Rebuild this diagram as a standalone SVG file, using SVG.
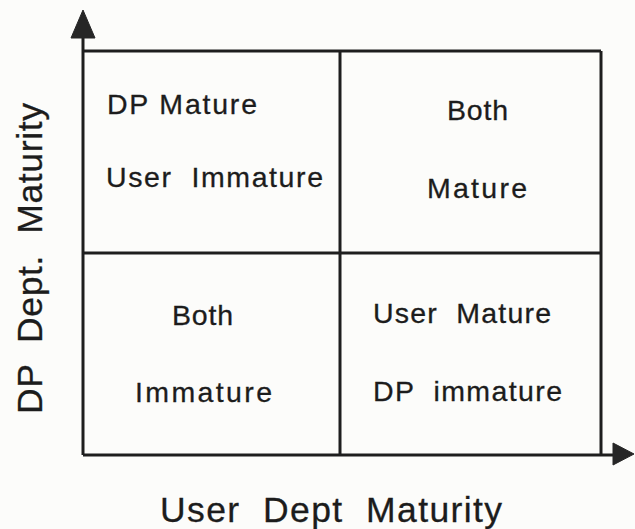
<svg xmlns="http://www.w3.org/2000/svg" width="635" height="529" viewBox="0 0 635 529">
  <style>
    .ln { stroke: #1e1e1e; stroke-width: 3; fill: none; }
    .head { fill: #262626; stroke: #262626; stroke-width: 1; stroke-linejoin: round; }
    .cell { font-family: "Liberation Sans", Arial, sans-serif; font-size: 28.5px; fill: #1c1c1c; stroke: #1c1c1c; stroke-width: 0.3; }
    .axis { font-family: "Liberation Sans", Arial, sans-serif; font-size: 35.5px; fill: #1c1c1c; stroke: #1c1c1c; stroke-width: 0.3; }
  </style>
  <rect width="635" height="529" fill="#fcfcfa"/>

  <!-- grid and axes -->
  <g id="connectors">
    <line class="ln" x1="83" y1="36" x2="83" y2="455"/>
    <line class="ln" x1="83" y1="455" x2="615" y2="455"/>
    <line class="ln" x1="83" y1="51" x2="601" y2="51"/>
    <line class="ln" x1="601" y1="51" x2="601" y2="455"/>
    <line class="ln" x1="340" y1="51" x2="340" y2="455"/>
    <line class="ln" x1="83" y1="253" x2="601" y2="253"/>
    <polygon class="head" points="83,10 95,38 71,38"/>
    <polygon class="head" points="634,454 613,443 613,465"/>
  </g>

  <!-- quadrants -->
  <g id="dp-mature-user-immature">
    <text class="cell" x="107" y="114" textLength="150" lengthAdjust="spacing">DP Mature</text>
    <text class="cell" x="106" y="187" textLength="217" lengthAdjust="spacing" xml:space="preserve">User  Immature</text>
  </g>
  <g id="both-mature">
    <text class="cell" x="447" y="120" textLength="61" lengthAdjust="spacing">Both</text>
    <text class="cell" x="427" y="198" textLength="100" lengthAdjust="spacing">Mature</text>
  </g>
  <g id="both-immature">
    <text class="cell" x="172" y="325" textLength="61" lengthAdjust="spacing">Both</text>
    <text class="cell" x="135" y="402" textLength="137" lengthAdjust="spacing">Immature</text>
  </g>
  <g id="user-mature-dp-immature">
    <text class="cell" x="373" y="323" textLength="178" lengthAdjust="spacing" xml:space="preserve">User  Mature</text>
    <text class="cell" x="373" y="401" textLength="189" lengthAdjust="spacing" xml:space="preserve">DP  immature</text>
  </g>

  <!-- axis titles -->
  <g id="axis-labels">
    <text class="axis" x="160" y="522" textLength="342" lengthAdjust="spacing" xml:space="preserve">User  Dept  Maturity</text>
    <text class="axis" transform="translate(42,414) rotate(-90)" x="0" y="0" textLength="311" lengthAdjust="spacing" xml:space="preserve">DP  Dept.  Maturity</text>
  </g>
</svg>
